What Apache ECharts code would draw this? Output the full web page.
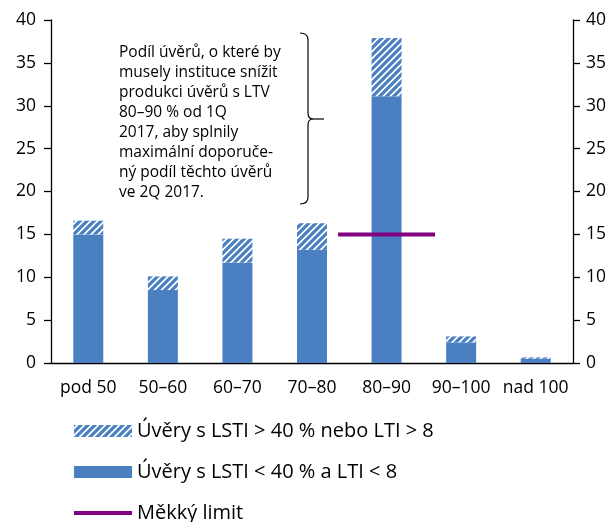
<!DOCTYPE html>
<html>
<head>
<meta charset="utf-8">
<script src="https://cdn.jsdelivr.net/npm/echarts@6/dist/echarts.min.js"></script>
<style>
  html, body { margin: 0; padding: 0; background: #fff; }
  #chart { width: 614px; height: 522px; }
</style>
</head>
<body>
<div id="chart"></div>
<script>
"use strict";
var categories = ['pod 50', '50–60', '60–70', '70–80', '80–90', '90–100', 'nad 100'];
// Úvěry s LSTI < 40 % a LTI < 8 (plná část)
var solidValues = [15.0, 8.5, 11.7, 13.2, 31.1, 2.4, 0.5];
// Úvěry s LSTI > 40 % nebo LTI > 8 (šrafovaná část)
var hatchValues = [1.6, 1.6, 2.8, 3.1, 6.8, 0.7, 0.15];
// Měkký limit
var limitData = [['80–90', 15]];
var yTicks = [0, 5, 10, 15, 20, 25, 30, 35, 40];

var seriesNames = ['Úvěry s LSTI > 40 % nebo LTI > 8', 'Úvěry s LSTI < 40 % a LTI < 8', 'Měkký limit'];
var noteLines = [
    'Podíl úvěrů, o které by',
    'musely instituce snížit',
    'produkci úvěrů s LTV',
    '80–90 % od 1Q',
    '2017, aby splnily',
    'maximální doporuče-',
    'ný podíl těchto úvěrů',
    've 2Q 2017.'
];

var blue = '#4a7fc2';
var fontFamily = '"Open Sans", "Noto Sans", sans-serif';

// šrafování – diagonální pruhy
function makeHatch() {
    var s = 7;
    var c = document.createElement('canvas');
    c.width = s; c.height = s;
    var ctx = c.getContext('2d');
    ctx.fillStyle = '#ffffff';
    ctx.fillRect(0, 0, s, s);
    ctx.strokeStyle = blue;
    ctx.lineWidth = 3.2;
    ctx.beginPath();
    ctx.moveTo(-1, s + 1); ctx.lineTo(s + 1, -1);
    ctx.moveTo(-s / 2 - 1, s / 2 + 1); ctx.lineTo(s / 2 + 1, -s / 2 - 1);
    ctx.moveTo(s / 2 - 1, s * 1.5 + 1); ctx.lineTo(s * 1.5 + 1, s / 2 - 1);
    ctx.moveTo(-2, 2); ctx.lineTo(2, -2);
    ctx.moveTo(s - 2, s + 2); ctx.lineTo(s + 2, s - 2);
    ctx.stroke();
    return c;
}

// složená závorka vedle poznámky
function braceParts() {
    var st = {stroke: '#000', lineWidth: 1.2, fill: null};
    return [
        {type: 'bezierCurve', shape: {x1: 300, y1: 33, cpx1: 308, cpy1: 33, x2: 308, y2: 40}, style: st},
        {type: 'line', shape: {x1: 308, y1: 40, x2: 308, y2: 113}, style: st},
        {type: 'bezierCurve', shape: {x1: 308, y1: 113, cpx1: 308, cpy1: 119, x2: 313, y2: 119}, style: st},
        {type: 'line', shape: {x1: 313, y1: 119, x2: 324, y2: 119}, style: st},
        {type: 'bezierCurve', shape: {x1: 313, y1: 119, cpx1: 308, cpy1: 119, x2: 308, y2: 125}, style: st},
        {type: 'line', shape: {x1: 308, y1: 125, x2: 308, y2: 197}, style: st},
        {type: 'bezierCurve', shape: {x1: 308, y1: 197, cpx1: 308, cpy1: 204, x2: 300, y2: 204}, style: st}
    ];
}

var chart = echarts.init(document.getElementById('chart'), null, {renderer: 'canvas'});

function yAxis(pos, margin) {
    return {
        type: 'value',
        position: pos,
        min: 0,
        max: 40,
        interval: 5,
        splitLine: {show: false},
        axisLine: {show: true, lineStyle: {color: '#000', width: 1.3}},
        axisTick: {show: true, length: 7, lineStyle: {color: '#000', width: 1.3}},
        axisLabel: {
            color: '#000', fontSize: 17.5, fontFamily: fontFamily, margin: margin,
            formatter: function (v) { return yTicks.indexOf(v) >= 0 ? String(v) : ''; }
        }
    };
}

var option = {
    animation: false,
    textStyle: {fontFamily: fontFamily},
    grid: {left: 51, right: 41, top: 20, bottom: 159, containLabel: false},
    legend: {
        orient: 'vertical',
        left: 74,
        top: 421,
        height: 120,
        padding: 0,
        itemWidth: 58,
        itemHeight: 12,
        itemGap: 21,
        symbolKeepAspect: true,
        textStyle: {color: '#000', fontSize: 20, lineHeight: 20, fontFamily: fontFamily},
        data: [
            {name: seriesNames[0], icon: 'rect'},
            {name: seriesNames[1], icon: 'rect'},
            {name: seriesNames[2], icon: 'path://M0,0 L58,0 L58,4 L0,4 Z'}
        ]
    },
    xAxis: {
        type: 'category',
        data: categories,
        axisLine: {lineStyle: {color: '#000', width: 1.3}},
        axisTick: {show: false},
        axisLabel: {color: '#000', fontSize: 17.5, fontFamily: fontFamily, margin: 16, interval: 0}
    },
    yAxis: [yAxis('left', 15), yAxis('right', 13)],
    series: [
        {
            name: seriesNames[1],
            type: 'bar',
            stack: 'total',
            barWidth: 30,
            itemStyle: {color: blue},
            data: solidValues
        },
        {
            name: seriesNames[0],
            type: 'bar',
            stack: 'total',
            barWidth: 30,
            itemStyle: {color: {image: makeHatch(), repeat: 'repeat'}},
            data: hatchValues
        },
        {
            name: seriesNames[2],
            type: 'custom',
            itemStyle: {color: '#800080'},
            z: 5,
            renderItem: function (params, api) {
                var p = api.coord([api.value(0), api.value(1)]);
                var half = api.size([1, 0])[0] * 0.65;
                return {
                    type: 'line',
                    shape: {x1: p[0] - half, y1: p[1], x2: p[0] + half, y2: p[1]},
                    style: {stroke: '#800080', lineWidth: 4}
                };
            },
            data: limitData
        }
    ],
    graphic: [
        {
            type: 'text',
            left: 119,
            top: 43,
            style: {
                text: noteLines.join('\n'),
                fontSize: 15.5,
                lineHeight: 20,
                fill: '#000',
                fontFamily: fontFamily
            }
        }
    ].concat(braceParts())
};

chart.setOption(option);
</script>
</body>
</html>
